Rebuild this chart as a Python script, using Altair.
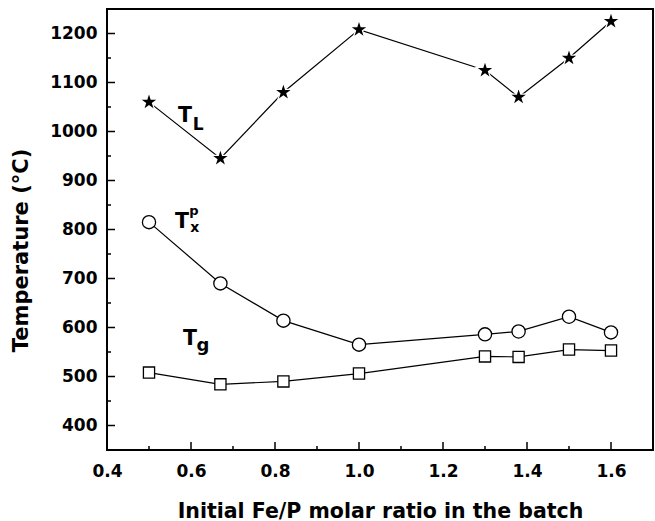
import altair as alt
import pandas as pd

# Initial Fe/P molar ratio of each batch
ratio = [0.5, 0.67, 0.82, 1.0, 1.3, 1.38, 1.5, 1.6]
# Characteristic temperatures (°C)
t_liquidus = [1060, 945, 1080, 1208, 1125, 1070, 1150, 1225]
t_cryst_peak = [815, 690, 614, 565, 586, 592, 622, 590]
t_glass = [508, 484, 490, 506, 541, 540, 555, 553]

# Axis tick positions
x_major = [0.4, 0.6, 0.8, 1.0, 1.2, 1.4, 1.6]
x_minor = [0.5, 0.7, 0.9, 1.1, 1.3, 1.5]
y_major = [400, 500, 600, 700, 800, 900, 1000, 1100, 1200]
y_minor = [450, 550, 650, 750, 850, 950, 1050, 1150]

FONT = "DejaVu Sans"
W, H = 546, 441
STAR = ("M0,-1L0.2245,-0.309L0.951,-0.309L0.3633,0.118L0.588,0.809"
        "L0,0.382L-0.588,0.809L-0.3633,0.118L-0.951,-0.309L-0.2245,-0.309Z")

df = pd.concat([
    pd.DataFrame({"ratio": ratio, "temp": t_liquidus, "series": "TL"}),
    pd.DataFrame({"ratio": ratio, "temp": t_cryst_peak, "series": "Txp"}),
    pd.DataFrame({"ratio": ratio, "temp": t_glass, "series": "Tg"}),
])

xs = alt.Scale(domain=[0.4, 1.7], nice=False, zero=False)
ys = alt.Scale(domain=[350, 1250], nice=False, zero=False)

x_enc = alt.X(
    "ratio:Q", scale=xs,
    axis=alt.Axis(
        title="Initial Fe/P molar ratio in the batch", values=x_major, format=".1f",
        ticks=False, domain=False, grid=False, labelFlush=False,
        labelFont=FONT, labelFontSize=17, labelFontWeight="bold", labelColor="black",
        labelPadding=13, titleFont=FONT, titleFontSize=20.5, titleFontWeight="bold",
        titleColor="black", titleBaseline="alphabetic", titleY=67, titleX=W / 2,
        titleAlign="center",
    ),
)
y_enc = alt.Y(
    "temp:Q", scale=ys,
    axis=alt.Axis(
        title="Temperature (°C)", values=y_major, format="d", ticks=False,
        domain=False, grid=False, labelFlush=False,
        labelFont=FONT, labelFontSize=17, labelFontWeight="bold", labelColor="black",
        labelPadding=10, titleFont=FONT, titleFontSize=21, titleFontWeight="bold",
        titleColor="black", titleBaseline="alphabetic", titleX=-80, titleY=241,
        titleAlign="center", titleAngle=270,
    ),
)

base = alt.Chart(df).encode(x=x_enc, y=y_enc)

lines = base.mark_line(color="black", strokeWidth=1.2).encode(detail="series:N")

stars_halo = base.transform_filter(alt.datum.series == "TL").mark_point(
    shape=STAR, filled=True, fill="black", stroke="white", strokeWidth=2.5,
    size=230, opacity=1,
)
stars = base.transform_filter(alt.datum.series == "TL").mark_point(
    shape=STAR, filled=True, fill="black", strokeWidth=0, size=230, opacity=1,
)
circles = base.transform_filter(alt.datum.series == "Txp").mark_point(
    shape="circle", filled=False, fill="white", fillOpacity=1, stroke="black",
    strokeWidth=1.3, size=175, opacity=1,
)
squares = base.transform_filter(alt.datum.series == "Tg").mark_point(
    shape="square", filled=False, fill="white", fillOpacity=1, stroke="black",
    strokeWidth=1.3, size=125, opacity=1,
)


# Inward tick marks
def xticks(vals, length):
    return alt.Chart(pd.DataFrame({"v": vals})).mark_rule(
        color="black", strokeWidth=1.5
    ).encode(x=alt.X("v:Q", scale=xs), y=alt.value(H), y2=alt.value(H - length))


def yticks(vals, length):
    return alt.Chart(pd.DataFrame({"v": vals})).mark_rule(
        color="black", strokeWidth=1.5
    ).encode(y=alt.Y("v:Q", scale=ys), x=alt.value(0), x2=alt.value(length))


# Series labels: main letter plus sub/superscripts (left-aligned, on baseline)
def label(xv, yv, txt, size):
    return alt.Chart(pd.DataFrame({"x": [xv], "y": [yv], "t": [txt]})).mark_text(
        font=FONT, fontSize=size, fontWeight="bold", color="black",
        align="left", baseline="alphabetic",
    ).encode(x=alt.X("x:Q", scale=xs), y=alt.Y("y:Q", scale=ys), text="t:N")


labels = [
    label(0.569, 1019, "T", 20.5), label(0.604, 1003, "L", 17),
    label(0.562, 803, "T", 20.5), label(0.596, 829, "p", 13), label(0.598, 795, "x", 14),
    label(0.581, 564, "T", 20.5), label(0.613, 553, "g", 18),
]

chart = alt.layer(
    xticks(x_major, 8), xticks(x_minor, 4), yticks(y_major, 8), yticks(y_minor, 4),
    lines, stars_halo, stars, circles, squares, *labels,
).properties(
    width=W, height=H,
    autosize=alt.AutoSizeParams(type="none"),
    padding={"left": 107, "top": 9, "right": 2, "bottom": 71},
    background="white",
).configure_view(stroke="black", strokeWidth=2)

chart.save("out.html", embed_options={"renderer": "svg", "actions": False})
